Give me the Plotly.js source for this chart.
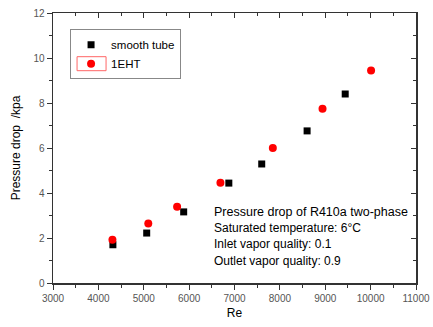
<!DOCTYPE html>
<html>
<head>
<meta charset="utf-8">
<script src="https://cdn.plot.ly/plotly-3.0.1.min.js"></script>
<style>html,body{margin:0;padding:0;background:#fff;}#chart{width:433px;height:327px;}</style>
</head>
<body>
<div id="chart"></div>
<script>
// Data
const smoothRe = [4320, 5065, 5880, 6875, 7600, 8600, 9440];
const smoothDP = [1.70, 2.22, 3.16, 4.44, 5.29, 6.76, 8.40];
const ehtRe = [4310, 5100, 5735, 6690, 7845, 8940, 10010];
const ehtDP = [1.92, 2.65, 3.39, 4.46, 6.00, 7.75, 9.45];
const seriesNames = ['smooth tube', '1EHT'];
const noteLines = [
  'Pressure drop of R410a two-phase',
  'Saturated temperature: 6°C',
  'Inlet vapor quality: 0.1',
  'Outlet vapor quality: 0.9'
];

const axisColor = '#333';
const tickFont = {family: 'Arial, Liberation Sans, sans-serif', size: 10, color: '#555'};

const traces = [
  {x: smoothRe, y: smoothDP, name: seriesNames[0], mode: 'markers', type: 'scatter',
   marker: {symbol: 'square', size: 7, color: '#000'}},
  {x: ehtRe, y: ehtDP, name: seriesNames[1], mode: 'markers', type: 'scatter',
   marker: {symbol: 'circle', size: 8, color: '#ff0000'}},
  {x: [], y: [], xaxis: 'x2', yaxis: 'y2', showlegend: false, type: 'scatter', mode: 'markers'}
];

const baseX = {
  range: [3000, 11000], dtick: 1000, tick0: 3000, tickformat: 'd',
  showline: true, linecolor: axisColor, linewidth: 1.5,
  showgrid: false, zeroline: false,
  tickcolor: axisColor, ticklen: 5, tickwidth: 1,
  minor: {dtick: 500, ticklen: 3, tickcolor: axisColor, ticks: 'outside'}
};
const baseY = {
  range: [0, 12], dtick: 2, tick0: 0,
  showline: true, linecolor: axisColor, linewidth: 1.5,
  showgrid: false, zeroline: false,
  tickcolor: axisColor, ticklen: 5, tickwidth: 1,
  minor: {dtick: 1, ticklen: 3, tickcolor: axisColor, ticks: 'outside'}
};

const layout = {
  width: 433, height: 327,
  margin: {l: 53, r: 17, t: 13, b: 44},
  paper_bgcolor: '#fff', plot_bgcolor: '#fff',
  font: {family: 'Arial, Liberation Sans, sans-serif', size: 12, color: '#000'},
  showlegend: true,
  legend: {x: 0.047, y: 0.94, xanchor: 'left', yanchor: 'top',
    bgcolor: 'rgba(255,255,255,0)', bordercolor: '#888', borderwidth: 1,
    font: {size: 11.5, color: '#000'}, tracegroupgap: 0, itemwidth: 30},
  xaxis: Object.assign({}, baseX, {
    ticks: 'outside', tickfont: tickFont,
    title: {text: 'Re', font: {size: 12, color: '#000'}, standoff: 6}
  }),
  yaxis: Object.assign({}, baseY, {
    ticks: 'outside', tickfont: tickFont,
    title: {text: 'Pressure drop  /kpa', font: {size: 12, color: '#000'}, standoff: 10}
  }),
  xaxis2: Object.assign({}, baseX, {
    overlaying: 'x', side: 'top', anchor: 'y2', ticks: 'inside', showticklabels: false,
    minor: {dtick: 500, ticklen: 3, tickcolor: axisColor, ticks: 'inside'}
  }),
  yaxis2: Object.assign({}, baseY, {
    overlaying: 'y', side: 'right', anchor: 'x2', ticks: 'inside', showticklabels: false,
    minor: {dtick: 1, ticklen: 3, tickcolor: axisColor, ticks: 'inside'}
  }),
  annotations: noteLines.map((t, i) => ({
    text: t, xref: 'paper', yref: 'paper', x: 0.437, y: (283 - (211.7 + i * 16.3)) / 270,
    xanchor: 'left', yanchor: 'middle', showarrow: false,
    font: {size: i === 0 ? 12.5 : 12, color: '#000'}
  }))
};

Plotly.newPlot('chart', traces, layout, {displayModeBar: false, staticPlot: true}).then(gd => {
  // outline around the 1EHT legend symbol, as in the reference
  const pts = gd.querySelectorAll('.legend .traces .legendpoints');
  if (pts.length > 1) {
    const r = pts[1].getBoundingClientRect();
    const cx = r.left + r.width / 2, cy = r.top + r.height / 2;
    const fs = gd._fullLayout._size;
    Plotly.relayout(gd, {shapes: [{type: 'rect', xref: 'paper', yref: 'paper',
      x0: (cx - 14 - fs.l) / fs.w, x1: (cx + 15 - fs.l) / fs.w,
      y0: (fs.t + fs.h - (cy + 7)) / fs.h, y1: (fs.t + fs.h - (cy - 7)) / fs.h,
      line: {color: '#ff6666', width: 1}, fillcolor: 'rgba(0,0,0,0)'}]});
  }
});
</script>
</body>
</html>
